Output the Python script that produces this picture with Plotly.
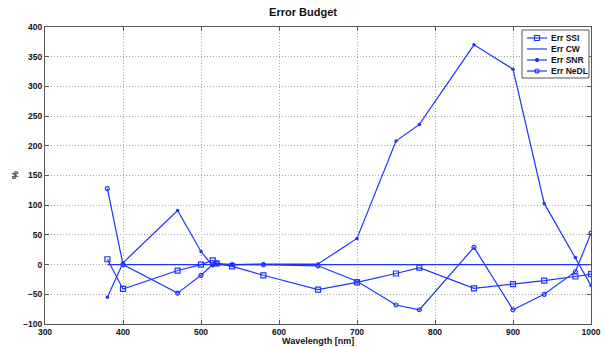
import plotly.graph_objects as go

wavelength = [380, 400, 470, 500, 515, 520, 540, 580, 650, 700, 750, 780, 850, 900, 940, 980, 1000]
err_ssi = [9, -41, -10, 0, 7, 2, -3, -18, -42, -30, -15, -5, -40, -33, -27, -20, -16]
err_cw = [0] * len(wavelength)
err_snr = [-55, 3, 91, 22, -2, 0, 0, 1, 1, 44, 208, 236, 370, 329, 103, 12, -35]
err_nedl = [128, 0, -48, -18, 0, 2, 0, 0, -2, -28, -68, -76, 29, -76, -50, -12, 53]
series_names = ["Err SSI", "Err CW", "Err SNR", "Err NeDL"]
xticks = list(range(300, 1001, 100))
yticks = list(range(-100, 401, 50))

blue = "#1f33ff"
W, H = 605, 347
L, R, T, B = 45, 14, 27, 23
PW, PH = W - L - R, H - T - B


def px_x(p):
    return (p - L) / PW


def px_y(p):
    return (H - B - p) / PH


fig = go.Figure()
fig.add_trace(go.Scatter(x=wavelength, y=err_ssi, name=series_names[0], mode="lines+markers",
                         line=dict(color=blue, width=1.2),
                         marker=dict(symbol="square-open", size=5, color=blue, line=dict(width=1.2))))
fig.add_trace(go.Scatter(x=wavelength, y=err_cw, name=series_names[1], mode="lines",
                         line=dict(color=blue, width=1.2)))
fig.add_trace(go.Scatter(x=wavelength, y=err_snr, name=series_names[2], mode="lines+markers",
                         line=dict(color=blue, width=1.2),
                         marker=dict(symbol="circle", size=3.5, color=blue)))
fig.add_trace(go.Scatter(x=wavelength, y=err_nedl, name=series_names[3], mode="lines+markers",
                         line=dict(color=blue, width=1.2),
                         marker=dict(symbol="circle-open", size=4, color=blue, line=dict(width=1.2))))

axis_common = dict(showline=True, linecolor="#555555", linewidth=1, mirror="ticks",
                   ticks="inside", ticklen=4, tickcolor="#555555",
                   showgrid=True, gridcolor="#a8a8a8", griddash="1px,2px", gridwidth=1,
                   zeroline=False, automargin=False,
                   tickfont=dict(size=8.5, color="#111111", weight="bold"))

shapes = []
annotations = []
# custom legend box
shapes.append(dict(type="rect", xref="paper", yref="paper",
                   x0=px_x(522), x1=px_x(589), y0=px_y(78), y1=px_y(30),
                   line=dict(color="#555555", width=1), fillcolor="white", layer="above"))
entry_y = [38, 49, 60, 71]
for i, name in enumerate(series_names):
    yy = px_y(entry_y[i])
    shapes.append(dict(type="line", xref="paper", yref="paper",
                       x0=px_x(527), x1=px_x(547), y0=yy, y1=yy,
                       line=dict(color=blue, width=1.2), layer="above"))
    if i == 0:
        shapes.append(dict(type="rect", xref="paper", yref="paper", xsizemode="pixel", ysizemode="pixel",
                           xanchor=px_x(537), yanchor=yy, x0=-2.5, x1=2.5, y0=-2.5, y1=2.5,
                           line=dict(color=blue, width=1.2), fillcolor="rgba(0,0,0,0)", layer="above"))
    elif i == 2:
        shapes.append(dict(type="circle", xref="paper", yref="paper", xsizemode="pixel", ysizemode="pixel",
                           xanchor=px_x(537), yanchor=yy, x0=-1.7, x1=1.7, y0=-1.7, y1=1.7,
                           line=dict(color=blue, width=1), fillcolor=blue, layer="above"))
    elif i == 3:
        shapes.append(dict(type="circle", xref="paper", yref="paper", xsizemode="pixel", ysizemode="pixel",
                           xanchor=px_x(537), yanchor=yy, x0=-2, x1=2, y0=-2, y1=2,
                           line=dict(color=blue, width=1.2), fillcolor="rgba(0,0,0,0)", layer="above"))
    annotations.append(dict(text="<b>%s</b>" % name, xref="paper", yref="paper",
                            x=px_x(549), y=yy, xanchor="left", yanchor="middle",
                            showarrow=False, font=dict(size=8.5, color="#111111")))

annotations.append(dict(text="<b>Wavelength [nm]</b>", xref="paper", yref="paper",
                        x=px_x(318), y=px_y(341.5), xanchor="center", yanchor="middle",
                        showarrow=False, font=dict(size=9, color="#111111")))
annotations.append(dict(text="<b>%</b>", xref="paper", yref="paper", textangle=-90,
                        x=px_x(15), y=px_y(175), xanchor="center", yanchor="middle",
                        showarrow=False, font=dict(size=9, color="#111111")))

fig.update_layout(
    width=W, height=H,
    margin=dict(l=L, r=R, t=T, b=B),
    paper_bgcolor="white", plot_bgcolor="white",
    font=dict(family="Liberation Sans, Arial, sans-serif", size=9, color="#111111"),
    title=dict(text="<b>Error Budget</b>", x=303 / W, xanchor="center",
               y=1 - 12 / H, yanchor="middle", font=dict(size=11)),
    xaxis=dict(range=[300, 1000], tickmode="array", tickvals=xticks, **axis_common),
    yaxis=dict(range=[-100, 400], tickmode="array", tickvals=yticks, **axis_common),
    shapes=shapes,
    annotations=annotations,
    showlegend=False,
)

fig.write_html("out.html", config={"displayModeBar": False})
with open("out.html", "r", encoding="utf-8") as f:
    html = f.read()
html = html.replace("<head>", "<head><style>html,body{margin:0;padding:0;overflow:hidden;}</style>", 1)
with open("out.html", "w", encoding="utf-8") as f:
    f.write(html)
